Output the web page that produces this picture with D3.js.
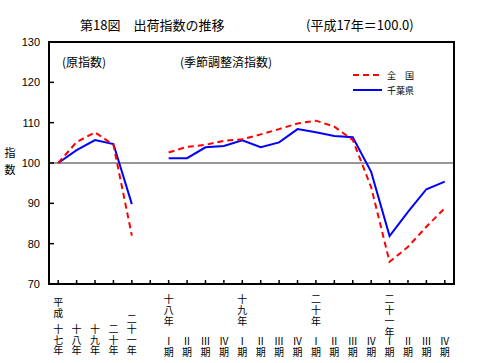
<!DOCTYPE html>
<html lang="ja">
<head>
<meta charset="utf-8">
<title>第18図 出荷指数の推移</title>
<script src="https://cdn.jsdelivr.net/npm/d3@7"></script>
<style>
  body { margin: 0; background: #fff; }
  text { font-family: "Noto Sans CJK JP", sans-serif; fill: #000; }
</style>
</head>
<body>
<script>
// slots along the x axis: 5 years (原指数), one empty slot, 16 quarters (季節調整済指数)
var annualCats = ["H17", "H18", "H19", "H20", "H21"]
var quarterCats = ["18-1","18-2","18-3","18-4","19-1","19-2","19-3","19-4",
                   "20-1","20-2","20-3","20-4","21-1","21-2","21-3","21-4"]
var slots = annualCats.concat(["gap"], quarterCats)

// values
var nationalAnnual = [100, 105.2, 107.6, 104.5, 82.0]
var chibaAnnual    = [100, 103.2, 105.7, 104.7, 89.8]
var nationalQuarter = [102.6, 104.0, 104.5, 105.5, 105.9, 107.1, 108.4, 109.8,
                       110.5, 109.0, 105.7, 94.0, 75.5, 79.2, 84.2, 88.8]
var chibaQuarter    = [101.2, 101.2, 103.9, 104.2, 105.6, 103.9, 105.1, 108.4,
                       107.6, 106.7, 106.4, 97.8, 81.9, 87.9, 93.5, 95.4]

// labels
var annualTop    = ["平成", "", "", "", ""]
var annualBottom = ["十七年", "十八年", "十九年", "二十年", "二十一年"]
var quarterYear  = ["十八年","","","","十九年","","","","二十年","","","","二十一年","","",""]
var quarterName  = ["Ⅰ期","Ⅱ期","Ⅲ期","Ⅳ期","Ⅰ期","Ⅱ期","Ⅲ期","Ⅳ期",
                    "Ⅰ期","Ⅱ期","Ⅲ期","Ⅳ期","Ⅰ期","Ⅱ期","Ⅲ期","Ⅳ期"]
var yTicks = [70, 80, 90, 100, 110, 120, 130]

var w = 480, h = 363
var plotL = 49, plotR = 454, plotT = 42, plotB = 284

var svg = d3.select("body").append("svg").attr("width", w).attr("height", h)

var x = d3.scalePoint().domain(slots).range([plotL, plotR]).padding(0.5)
var y = d3.scaleLinear().domain([70, 130]).range([plotB, plotT])

// title
svg.append("text").attr("x", 80).attr("y", 30).style("font-size", "13px")
  .text("第18図　出荷指数の推移")
svg.append("text").attr("x", 306).attr("y", 30).style("font-size", "13px")
  .text("(平成17年＝100.0)")

// reference line at 100
svg.append("line")
  .attr("x1", plotL).attr("x2", plotR)
  .attr("y1", y(100)).attr("y2", y(100))
  .attr("stroke", "#333").attr("stroke-width", 1)

// y axis ticks (inside) and labels
svg.selectAll(".ytick").data(yTicks.slice(1, -1)).enter().append("line")
  .attr("x1", plotL).attr("x2", plotL + 5)
  .attr("y1", function(d) { return y(d) }).attr("y2", function(d) { return y(d) })
  .attr("stroke", "#000").attr("stroke-width", 1.5)
svg.selectAll(".ylab").data(yTicks).enter().append("text")
  .attr("x", 40).attr("y", function(d) { return y(d) + 4 })
  .attr("text-anchor", "end")
  .style("font-size", "11px").style("font-family", "'Liberation Sans', sans-serif")
  .text(function(d) { return d })

svg.append("text").attr("x", 10).attr("y", 157).attr("text-anchor", "middle")
  .style("font-size", "11px").text("指")
svg.append("text").attr("x", 10).attr("y", 174).attr("text-anchor", "middle")
  .style("font-size", "11px").text("数")

// x ticks (inside, up from bottom)
svg.selectAll(".xtick").data(slots).enter().append("line")
  .attr("x1", function(d) { return x(d) }).attr("x2", function(d) { return x(d) })
  .attr("y1", plotB).attr("y2", plotB - 4)
  .attr("stroke", "#000").attr("stroke-width", 1.5)

// vertical text, one character per line
function vtext(cx, chars, yStart, step) {
  chars.split("").forEach(function(c, i) {
    svg.append("text").attr("x", cx).attr("y", yStart + i * step)
      .attr("text-anchor", "middle").style("font-size", "10px").text(c)
  })
}
annualCats.forEach(function(k, i) {
  if (annualTop[i]) vtext(x(k), annualTop[i], 306, 11)
  var s = annualBottom[i]
  vtext(x(k), s, 354 - (s.length - 1) * 10.5, 10.5)
})
quarterCats.forEach(function(k, i) {
  if (quarterYear[i]) vtext(x(k), quarterYear[i], 303, 11)
  vtext(x(k), quarterName[i], 345, 11)
})

// series
var line = d3.line()
  .x(function(d) { return x(d[0]) })
  .y(function(d) { return y(d[1]) })

function draw(cats, vals, color, dash) {
  svg.append("path")
    .datum(d3.zip(cats, vals))
    .attr("d", line)
    .attr("fill", "none")
    .attr("stroke", color)
    .attr("stroke-width", 2)
    .attr("stroke-dasharray", dash)
}
draw(annualCats, chibaAnnual, "#0000ff", null)
draw(quarterCats, chibaQuarter, "#0000ff", null)
draw(annualCats, nationalAnnual, "#ff0000", "6,4")
draw(quarterCats, nationalQuarter, "#ff0000", "6,4")

// frame
svg.append("rect")
  .attr("x", plotL).attr("y", plotT)
  .attr("width", plotR - plotL).attr("height", plotB - plotT)
  .attr("fill", "none").attr("stroke", "#000").attr("stroke-width", 2)

// panel captions
svg.append("text").attr("x", 62).attr("y", 67).style("font-size", "12px").text("(原指数)")
svg.append("text").attr("x", 180).attr("y", 67).style("font-size", "12px").text("(季節調整済指数)")

// legend
var legend = [["全　国", "#ff0000", "6,4", 75], ["千葉県", "#0000ff", null, 90]]
legend.forEach(function(l) {
  svg.append("line").attr("x1", 353).attr("x2", 382).attr("y1", l[3]).attr("y2", l[3])
    .attr("stroke", l[1]).attr("stroke-width", 2).attr("stroke-dasharray", l[2])
  svg.append("text").attr("x", 387).attr("y", l[3] + 3.5).style("font-size", "9px").text(l[0])
})
</script>
</body>
</html>
